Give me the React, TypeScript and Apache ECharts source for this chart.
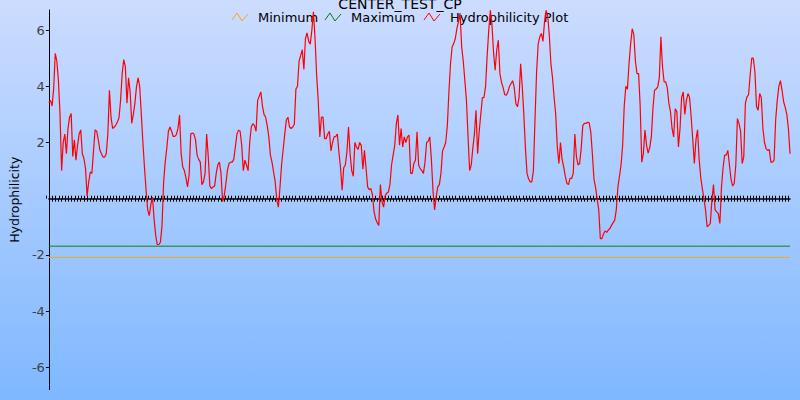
import React, { useEffect, useRef } from "react";
import * as echarts from "echarts";

const TITLE = "CENTER_TEST_CP";
const Y_NAME = "Hydrophilicity";
const SERIES_NAMES = ["Minimum", "Maximum", "Hydrophilicity Plot"];
const SERIES_COLORS = ["#ffa500", "#008000", "#ff0000"];
const MINIMUM = -2.09;
const MAXIMUM = -1.69;
const Y_TICKS = [-6, -4, -2, 2, 4, 6];
const Y_MIN = -6.79;
const Y_MAX = 6.715;

const hydroA = [
  3.4, 3.5, 3.3, 3.9, 5.17, 4.9, 4.2, 3.0, 1.0, 2.0,
  2.3, 1.6, 2.5, 2.9, 3.03, 1.5, 2.1, 1.37, 1.9, 2.3,
  2.45, 1.6, 1.43, 1.07, 0.1, 0.6, 0.95, 0.9, 1.7, 2.45,
  2.4, 2.1, 1.73, 1.6, 1.48, 1.48, 1.6, 2.3, 3.86, 2.9,
  2.5, 2.55, 2.62, 2.73, 2.88, 3.5, 4.46, 4.95, 4.7, 3.4,
  4.3, 3.8, 2.68, 3.0, 3.4, 4.0, 4.3, 4.0, 3.0, 2.0,
  1.1, 0.3, -0.4, -0.6, -0.2, 0.06, -0.7, -1.3, -1.63, -1.63,
  -1.55, -0.95, 0.6, 1.3, 1.8, 2.4, 2.55, 2.4, 2.22, 2.22,
  2.28, 2.5, 2.98, 1.6, 1.13, 1.0, 0.75, 0.42, 0.84, 2.3,
  2.34, 2.3, 2.1, 1.55, 1.4, 1.3, 0.5, 0.6, 0.9, 2.3,
  1.5, 0.45, 0.36, 0.42, 0.45, 0.9, 1.2, 1.3, 0.9, -0.1,
  0.1, 0.5, 1.0, 1.25, 1.3, 1.3, 1.4, 1.84, 2.3, 2.44,
  2.4, 1.9, 1.0, 1.37, 1.2, 1.0, 2.0, 2.55, 2.67, 2.6,
  2.4, 3.5, 3.65, 3.8, 3.3, 3.0, 2.9, 2.6, 2.2, 1.55,
  1.3, 0.95, 0.6, -0.05, -0.3, 0.4, 1.2, 1.75, 2.3, 2.8,
  2.9, 2.55, 2.5, 2.55, 2.65, 3.9,
];

const hydroB = [
  4.0, 4.9, 5.1, 5.3, 4.6, 5.7, 5.9, 5.6, 5.5, 6.0,
  6.65, 5.7, 4.4, 3.5, 2.2, 2.9, 2.9, 2.14, 2.14, 2.3,
  2.4, 1.7, 2.0, 2.2, 2.22, 2.3, 1.65, 1.1, 0.3, 1.1,
  1.2, 1.65, 2.55, 1.6, 1.0, 0.8, 2.0, 1.84, 1.75, 2.0,
  1.9, 1.05, 1.72, 1.1, 0.42, 0.32, 0.36, 0.15, -0.45, -0.72,
  -0.85, -0.95, 0.5, -0.1, -0.3, 0.1, 0.2, 0.23, 0.5, 1.2,
  1.55, 1.9, 2.67, 2.98, 1.9, 2.5, 1.84, 2.2, 2.0, 2.2,
  2.26, 0.9, 0.9, 1.25, 1.37, 2.38, 1.2, 1.07, 1.0, 0.9,
  1.3, 2.0, 2.05, 2.2, 1.4, 0.3, -0.4, 0.06, 0.42, 0.5,
  0.9, 1.7, 1.84, 2.0, 2.6, 3.8, 4.8, 5.4, 5.52, 5.7,
  6.05, 6.3, 6.6, 5.4, 4.9, 4.2, 3.5, 2.2, 1.0, 1.2,
  1.8, 2.3, 3.15, 1.6, 2.4, 3.0, 3.6, 3.6, 4.0, 5.1,
  6.0, 6.7, 6.2, 5.2, 4.57, 5.3, 5.64, 4.45, 4.14, 3.95,
  3.7, 3.68, 3.8, 4.0, 4.1, 4.2, 3.95, 3.39, 3.27, 3.6,
  4.8, 4.0, 3.0, 1.8, 0.9, 0.7, 0.6, 0.6, 1.0, 2.8,
  4.5, 5.5, 5.76, 5.88, 5.6, 6.3,
];

const hydroC = [
  6.7, 6.5, 5.8, 4.8, 4.3, 3.6, 3.0, 1.84, 1.25, 2.0,
  1.4, 1.13, 0.8, 0.55, 0.5, 0.72, 0.72, 0.9, 2.3, 1.5,
  1.2, 1.25, 1.8, 2.6, 2.68, 2.68, 2.72, 2.7, 2.38, 1.6,
  0.7, 0.4, 0.0, -0.4, -1.42, -1.42, -1.25, -1.15, -1.2, -1.12,
  -1.06, -0.95, -0.85, -0.77, -0.4, 0.4, 0.8, 1.2, 1.9, 3.3,
  4.0, 3.9, 4.8, 5.5, 6.05, 5.85, 4.9, 4.45, 4.45, 3.3,
  1.3, 1.6, 2.44, 1.9, 1.62, 1.82, 2.2, 3.2, 3.86, 3.9,
  3.98, 4.3, 5.76, 4.7, 4.16, 4.16, 3.95, 3.4, 3.1, 2.5,
  2.2, 3.2, 3.1, 1.84, 2.5, 3.6, 3.8, 3.0, 3.5, 3.74,
  3.6, 2.9, 2.1, 1.25, 2.1, 2.45, 1.4, 0.75, 0.36, 0.0,
  -0.4, -1.0, -0.95, -0.88, -0.05, 0.5, -0.4, -0.47, -0.53, -0.88,
  0.4, 1.1, 1.55, 1.55, 1.72, 1.2, 0.7, 0.45, 0.54, 1.2,
  2.85, 2.67, 2.4, 1.25, 1.5, 3.39, 3.62, 3.7, 4.4, 5.0,
  5.0, 4.5, 3.27, 3.15, 3.74, 3.6, 2.5, 2.0, 1.78, 1.72,
  1.75, 1.3, 1.3, 1.37, 2.8, 3.5, 4.0, 4.2, 3.86, 3.45,
  3.25, 3.0, 2.5, 1.6,
];

const hydro = [...hydroA, ...hydroB, ...hydroC];
const residues = hydro.map((_, i) => String(i + 1));

const FONT = "DejaVu Sans";

export default function App() {
  const ref = useRef<HTMLDivElement>(null);
  useEffect(() => {
    if (!ref.current) return;
    const chart = echarts.init(ref.current, undefined, { renderer: "svg" });
    const legendX = [232, 325, 424];
    const plotTop = 10;
    const plotBottom = 389.5;
    // pixel row of value 0, so the upper tick row sits on the zero line
    const zeroY = plotTop + ((Y_MAX - 0) / (Y_MAX - Y_MIN)) * (plotBottom - plotTop);
    const xAxisCommon = {
      type: "category",
      data: residues,
      boundaryGap: false,
      axisLine: { show: true, onZero: true, lineStyle: { color: "#000", width: 1.5 } },
      axisTick: { show: true, interval: 1, length: 3, lineStyle: { color: "#000", width: 1 } },
      axisLabel: { show: false },
      splitLine: { show: false },
    };
    chart.setOption({
      animation: false,
      title: {
        text: TITLE,
        left: "center",
        top: -8,
        textStyle: { fontFamily: FONT, fontSize: 14, fontWeight: "normal", color: "#000" },
      },
      grid: [
        { left: 46, right: 10, top: plotTop, bottom: 400 - plotBottom, containLabel: false },
        { left: 46, right: 10, top: plotTop, bottom: 400 - zeroY, containLabel: false },
      ],
      xAxis: [
        { ...xAxisCommon, gridIndex: 0, position: "bottom" },
        {
          ...xAxisCommon,
          gridIndex: 1,
          position: "bottom",
          axisLine: { show: false },
          axisTick: { ...xAxisCommon.axisTick, inside: true },
        },
      ],
      yAxis: [
        {
          type: "value",
          gridIndex: 0,
          min: Y_MIN,
          max: Y_MAX,
          name: Y_NAME,
          nameLocation: "middle",
          nameGap: 24,
          nameTextStyle: { fontFamily: FONT, fontSize: 12.5, color: "#000" },
          axisLine: { show: true, onZero: false, lineStyle: { color: "#000", width: 1 } },
          axisTick: { show: true, length: 3, customValues: Y_TICKS, lineStyle: { color: "#000" } },
          axisLabel: { customValues: Y_TICKS, color: "#404040", fontSize: 13, fontFamily: FONT, margin: 4 },
          splitLine: { show: false },
        },
        {
          type: "value",
          gridIndex: 1,
          min: 0,
          max: Y_MAX,
          show: false,
        },
      ],
      graphic: SERIES_NAMES.map((name, i) => ({
        type: "group",
        x: legendX[i],
        y: 12,
        children: [
          {
            type: "polyline",
            shape: { points: [[0, 8], [5, 1], [10, 9], [16, 2]] },
            style: { stroke: SERIES_COLORS[i], lineWidth: 1, fill: null },
          },
          {
            type: "text",
            x: 26,
            y: 5.5,
            style: { text: name, fontFamily: FONT, fontSize: 13, fill: "#000", verticalAlign: "middle" },
          },
        ],
      })),
      series: [
        {
          name: SERIES_NAMES[0],
          type: "line",
          data: residues.map(() => MINIMUM),
          showSymbol: false,
          symbol: "none",
          lineStyle: { color: SERIES_COLORS[0], width: 1 },
          itemStyle: { color: SERIES_COLORS[0] },
        },
        {
          name: SERIES_NAMES[1],
          type: "line",
          data: residues.map(() => MAXIMUM),
          showSymbol: false,
          symbol: "none",
          lineStyle: { color: SERIES_COLORS[1], width: 1 },
          itemStyle: { color: SERIES_COLORS[1] },
        },
        {
          name: SERIES_NAMES[2],
          type: "line",
          data: hydro,
          showSymbol: false,
          symbol: "none",
          lineStyle: { color: SERIES_COLORS[2], width: 1.2 },
          itemStyle: { color: SERIES_COLORS[2] },
        },
      ],
    });
    return () => chart.dispose();
  }, []);
  return (
    <div
      ref={ref}
      style={{
        position: "fixed",
        left: 0,
        top: 0,
        width: 800,
        height: 400,
        background: "linear-gradient(to bottom, #ccdcff 0%, #7fb8ff 100%)",
      }}
    />
  );
}
